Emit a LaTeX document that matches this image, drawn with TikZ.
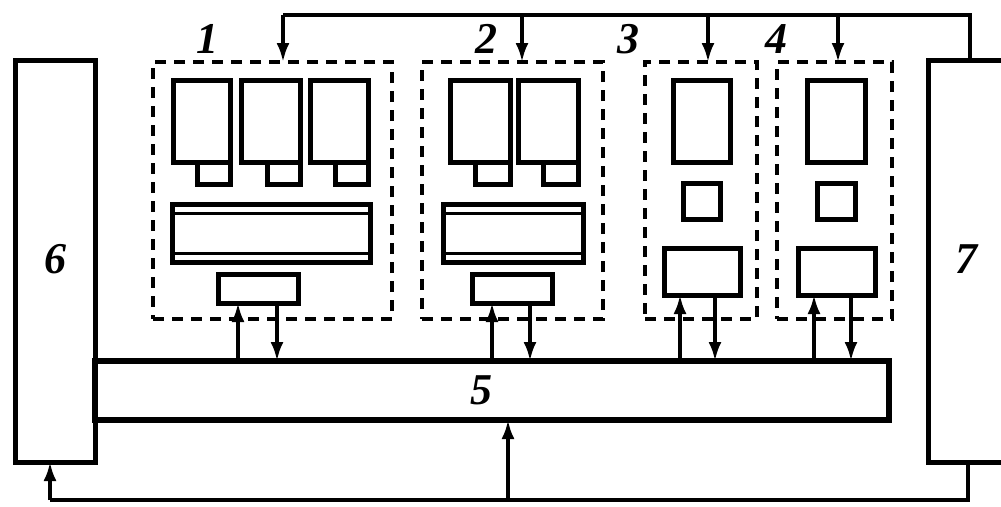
\documentclass[tikz,border=0pt]{standalone}
\usepackage{fontspec}
\setmainfont{Liberation Serif}
\usetikzlibrary{arrows.meta}
\tikzset{
  blk/.style={draw, line width=5pt, inner sep=0pt, outer sep=0pt, fill=white},
  grp/.style={draw, line width=3.5pt, inner sep=0pt, outer sep=0pt, dash pattern=on 11pt off 8pt},
  wire/.style={line width=3.5pt},
  arr/.style={line width=3.5pt, -{Latex[length=19pt,width=13pt]}},
  lbl/.style={font=\fontsize{44}{44}\selectfont\bfseries\itshape, inner sep=0pt}
}
\newcommand\mybox[6]{\node[#1, minimum width={(#4)-(#2)}, minimum height={(#5)-(#3)}] (#6) at ({((#2)+(#4))/2},{((#3)+(#5))/2}) {};}
\newcommand\mybar[5]{\mybox{blk}{#1}{#2}{#3}{#4}{#5}
  \draw[line width=3pt] (#5.north west) ++(0,9) -- ++({(#3)-(#1)},0);
  \draw[line width=3pt] (#5.south west) ++(0,-9) -- ++({(#3)-(#1)},0);}
\begin{document}
\begin{tikzpicture}[x=1pt,y=-1pt]
\useasboundingbox (0,0) rectangle (1001,506);
\begin{scope}
\clip (0,0) rectangle (1001,506);
% big side blocks
\mybox{blk}{15}{60}{95}{462}{b6}
\mybox{blk}{928}{60}{1010}{462}{b7}
\mybox{blk, line width=6pt}{95}{361}{889}{420}{b5}
\node[lbl] (l6) at (55,259) {6};
\node[lbl] (l7) at (966,259) {7};
\node[lbl] (l5) at (481,390) {5};

% dashed groups
\mybox{grp}{153}{62}{392}{319}{g1}
\mybox{grp}{422}{62}{603}{319}{g2}
\mybox{grp}{645}{62}{757}{319}{g3}
\mybox{grp}{777}{62}{892}{319}{g4}
\node[lbl] (l1) at (207,39) {1};
\node[lbl] (l2) at (486,39) {2};
\node[lbl] (l3) at (628,39) {3};
\node[lbl] (l4) at (776,39) {4};

% group 1
\mybox{blk}{197}{160}{230}{184}{s1a}
\mybox{blk}{267}{160}{300}{184}{s1b}
\mybox{blk}{335}{160}{368}{184}{s1c}
\mybox{blk}{173}{80}{230}{162}{t1a}
\mybox{blk}{241}{80}{300}{162}{t1b}
\mybox{blk}{310}{80}{368}{162}{t1c}
\mybar{172}{204}{370}{262}{w1}
\mybox{blk}{218}{274}{298}{303}{m1}

% group 2
\mybox{blk}{475}{160}{510}{184}{s2a}
\mybox{blk}{543}{160}{578}{184}{s2b}
\mybox{blk}{450}{80}{510}{162}{t2a}
\mybox{blk}{518}{80}{578}{162}{t2b}
\mybar{443}{204}{583}{262}{w2}
\mybox{blk}{472}{274}{552}{303}{m2}

% group 3
\mybox{blk}{673}{80}{730}{162}{t3}
\mybox{blk}{683}{183}{720}{219}{q3}
\mybox{blk}{664}{248}{740}{295}{m3}

% group 4
\mybox{blk}{807}{80}{865}{162}{t4}
\mybox{blk}{817}{183}{855}{219}{q4}
\mybox{blk}{798}{248}{875}{295}{m4}

% top wire
\coordinate (tr) at (970,15);
\coordinate (j1) at (283,15);
\coordinate (j2) at (522,15);
\coordinate (j3) at (708,15);
\coordinate (j4) at (838,15);
\draw[wire] (b7.north -| tr) -- (tr) -- (j1);
\draw[arr] (j1) -- (j1 |- g1.north);
\draw[arr] (j2) -- (j2 |- g2.north);
\draw[arr] (j3) -- (j3 |- g3.north);
\draw[arr] (j4) -- (j4 |- g4.north);

% bus connections
\coordinate (u1) at (238,0); \coordinate (d1) at (277,0);
\coordinate (u2) at (492,0); \coordinate (d2) at (530,0);
\coordinate (u3) at (680,0); \coordinate (d3) at (715,0);
\coordinate (u4) at (814,0); \coordinate (d4) at (851,0);
\draw[arr] (b5.north -| u1) -- (m1.south -| u1);
\draw[arr] (m1.south -| d1) -- (b5.north -| d1);
\draw[arr] (b5.north -| u2) -- (m2.south -| u2);
\draw[arr] (m2.south -| d2) -- (b5.north -| d2);
\draw[arr] (b5.north -| u3) -- (m3.south -| u3);
\draw[arr] (m3.south -| d3) -- (b5.north -| d3);
\draw[arr] (b5.north -| u4) -- (m4.south -| u4);
\draw[arr] (m4.south -| d4) -- (b5.north -| d4);

% bottom wire
\coordinate (bl) at (50,500);
\coordinate (br) at (968,500);
\coordinate (bm) at (508,500);
\draw[wire] (b7.south -| br) -- (br) -- (bl);
\draw[arr] (bl) -- (bl |- b6.south);
\draw[arr] (bm) -- (bm |- b5.south);
\end{scope}
\end{tikzpicture}
\end{document}
